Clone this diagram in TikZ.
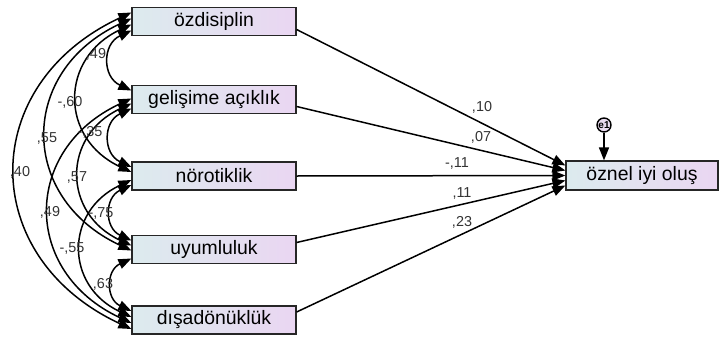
\documentclass[tikz,border=0pt]{standalone}
\usepackage{fontspec}
\setmainfont{Liberation Sans}
\usepackage{xcolor}
\usetikzlibrary{arrows.meta}
\definecolor{VLeft}{HTML}{DCEBEE}
\definecolor{VRight}{HTML}{EAD6F2}
\definecolor{ELight}{HTML}{EADCF0}
\definecolor{LGray}{HTML}{333333}

\begin{document}
\begin{tikzpicture}[
  x=0.5pt,y=-0.5pt,
  every node/.style={font=\fontsize{9.7}{11}\selectfont},
  var/.style={draw=black!85,line width=0.6pt,left color=VLeft,right color=VRight,
    minimum width=82pt,minimum height=14pt,inner sep=0pt},
  lab/.style={font=\fontsize{7.2}{8}\selectfont,text=LGray,inner sep=0.5pt},
  cov/.style={{Triangle[length=6.5pt,width=5pt]}-{Triangle[length=6.5pt,width=5pt]},
    line width=0.75pt,bend right=65,looseness=1.38},
  reg/.style={-{Triangle[length=6.5pt,width=5pt]},line width=0.75pt}
]
  \useasboundingbox (0,0) rectangle (722,337);
  % observed variables
  \node[var] (ozd) at (214,21.5) {özdisiplin};
  \node[var] (gel) at (214,99.5) {gelişime açıklık};
  \node[var] (nor) at (214,176) {nörotiklik};
  \node[var] (uyu) at (214,249.5) {uyumluluk};
  \node[var] (dis) at (214,320) {dışadönüklük};
  \node[var,minimum width=76pt,minimum height=14.5pt] (oio) at (642,175.5) {öznel iyi oluş};
  \node[circle,draw=black,line width=0.7pt,fill=ELight,minimum size=7pt,inner sep=0pt,
    font=\fontsize{5}{5}\selectfont\bfseries] (e1) at (604,125) {e1};
  % covariances
  \foreach \a/\b/\sa/\sb in {ozd/gel/-4.5/4.5,ozd/nor/-1.5/2,ozd/uyu/1.5/-0.5,
      ozd/dis/4.5/-4.5,gel/nor/-4.5/4.5,gel/uyu/-2/2,gel/dis/0.5/-1.5,
      nor/uyu/-4.5/4.5,nor/dis/-2/1.5,uyu/dis/-4.5/4.5}
    {\draw[cov] ([yshift=\sa pt]\a.west) to ([yshift=\sb pt]\b.west);}
  % regression paths
  \foreach \a/\sa/\sb in {ozd/-4/5,gel/-3.5/2.5,nor/0/0,uyu/3.5/-2.5,dis/4/-5}
    {\draw[reg] ([yshift=\sa pt]\a.east) -- ([yshift=\sb pt]oio.west);}
  \draw[reg] (e1) -- (oio.north -| e1);
  % estimates
  \node[lab] (w1) at (482,107) {,10};
  \node[lab] (w2) at (481,137) {,07};
  \node[lab] (w3) at (457,163) {-,11};
  \node[lab] (w4) at (462,193) {,11};
  \node[lab] (w5) at (462,222) {,23};
  \node[lab] (c12) at (96,54) {,49};
  \node[lab] (c13) at (70,102) {-,60};
  \node[lab] (c14) at (47,138) {,55};
  \node[lab] (c15) at (20,172) {,40};
  \node[lab] (c23) at (90,132) {-,35};
  \node[lab] (c24) at (77,177) {,57};
  \node[lab] (c25) at (50,212) {,49};
  \node[lab] (c34) at (101,213) {-,75};
  \node[lab] (c35) at (72,248) {-,55};
  \node[lab] (c45) at (103,284) {,63};
\end{tikzpicture}
\end{document}
